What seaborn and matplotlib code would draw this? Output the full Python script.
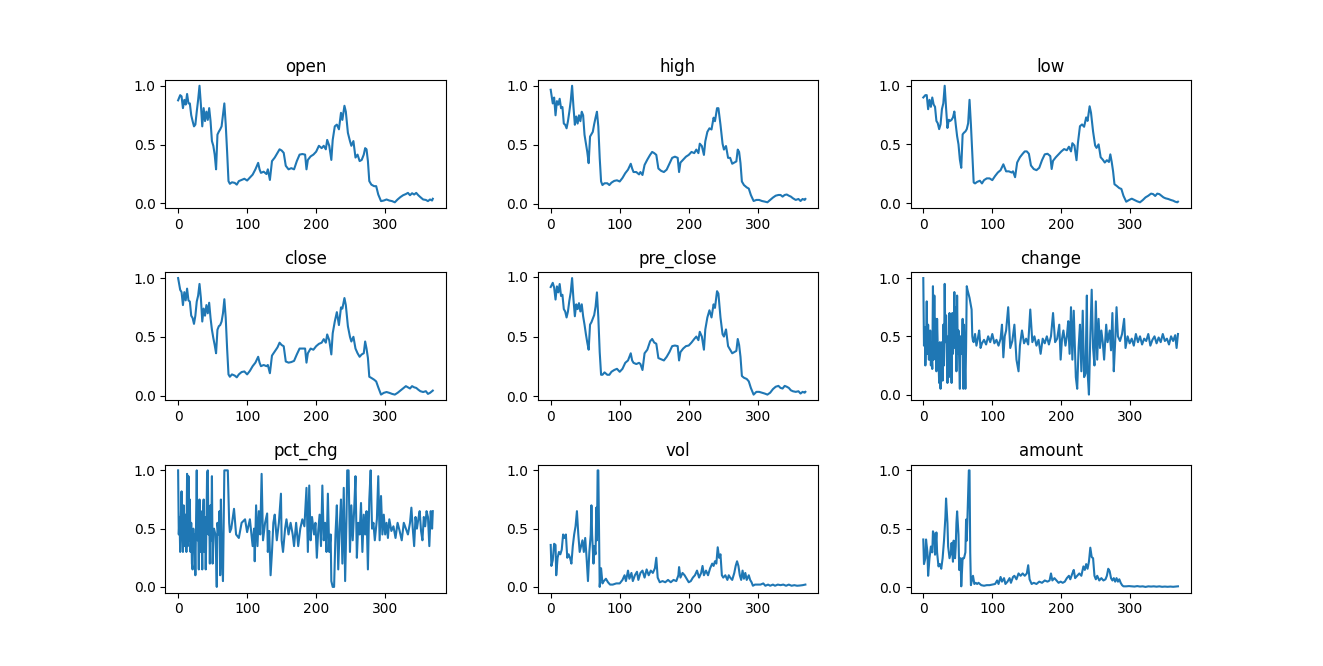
import matplotlib
matplotlib.use("Agg")
import matplotlib.pyplot as plt
import seaborn as sns

# sample days for the five price columns (min-max scaled values)
price_days = [0, 3, 5, 7, 9, 11, 13, 15, 17, 19, 21, 23, 25, 27, 29, 31, 33, 35, 37, 39,
              41, 43, 45, 47, 49, 51, 53, 55, 57, 59, 61, 63, 65, 67, 69, 71, 73, 75, 78, 82,
              85, 88, 92, 96, 100, 104, 108, 112, 116, 118, 120, 124, 128, 130, 133, 136, 140, 144, 147, 150,
              153, 156, 160, 164, 168, 172, 176, 180, 184, 186, 188, 192, 196, 200, 204, 208, 211, 214, 216, 219,
              222, 224, 227, 230, 233, 236, 238, 241, 243, 246, 249, 251, 254, 257, 260, 263, 266, 269, 271, 273,
              275, 277, 280, 284, 287, 290, 294, 298, 302, 306, 310, 314, 318, 322, 326, 330, 333, 336, 339, 342,
              345, 348, 351, 355, 359, 362, 365, 368, 369]

open_vals = [0.876, 0.92, 0.91, 0.81, 0.88, 0.84, 0.93, 0.85, 0.85, 0.75, 0.70, 0.655, 0.67, 0.78, 0.88, 1.0, 0.84, 0.655, 0.81, 0.70,
             0.78, 0.71, 0.81, 0.70, 0.53, 0.49, 0.415, 0.29, 0.585, 0.61, 0.63, 0.655, 0.75, 0.85, 0.67, 0.44, 0.19, 0.167, 0.18, 0.175,
             0.16, 0.19, 0.20, 0.21, 0.195, 0.22, 0.245, 0.29, 0.345, 0.29, 0.26, 0.27, 0.25, 0.29, 0.20, 0.36, 0.39, 0.43, 0.46, 0.45,
             0.43, 0.32, 0.29, 0.30, 0.29, 0.36, 0.415, 0.42, 0.415, 0.29, 0.37, 0.40, 0.415, 0.44, 0.49, 0.47, 0.49, 0.46, 0.54, 0.49,
             0.37, 0.54, 0.655, 0.67, 0.63, 0.77, 0.71, 0.83, 0.78, 0.60, 0.53, 0.49, 0.53, 0.39, 0.415, 0.36, 0.37, 0.415, 0.47, 0.46,
             0.36, 0.19, 0.16, 0.147, 0.147, 0.076, 0.02, 0.025, 0.034, 0.025, 0.02, 0.01, 0.034, 0.054, 0.07, 0.08, 0.09, 0.07, 0.087, 0.076,
             0.09, 0.07, 0.054, 0.034, 0.03, 0.02, 0.034, 0.025, 0.04]

high_vals = [0.966, 0.85, 0.90, 0.75, 0.87, 0.84, 0.89, 0.81, 0.82, 0.68, 0.67, 0.64, 0.70, 0.78, 0.87, 1.0, 0.82, 0.67, 0.74, 0.68,
             0.75, 0.70, 0.78, 0.75, 0.585, 0.51, 0.44, 0.345, 0.57, 0.59, 0.61, 0.675, 0.73, 0.78, 0.655, 0.39, 0.19, 0.16, 0.175, 0.175,
             0.16, 0.18, 0.195, 0.20, 0.19, 0.22, 0.26, 0.29, 0.34, 0.30, 0.27, 0.27, 0.25, 0.27, 0.245, 0.33, 0.375, 0.415, 0.44, 0.43,
             0.415, 0.30, 0.28, 0.27, 0.29, 0.34, 0.39, 0.40, 0.39, 0.27, 0.35, 0.375, 0.40, 0.415, 0.44, 0.43, 0.46, 0.43, 0.51, 0.49,
             0.415, 0.53, 0.61, 0.64, 0.63, 0.73, 0.70, 0.81, 0.81, 0.67, 0.51, 0.46, 0.49, 0.39, 0.39, 0.34, 0.35, 0.36, 0.46, 0.44,
             0.345, 0.19, 0.16, 0.14, 0.13, 0.076, 0.025, 0.034, 0.034, 0.025, 0.02, 0.014, 0.034, 0.054, 0.07, 0.076, 0.076, 0.062, 0.076, 0.08,
             0.07, 0.062, 0.048, 0.034, 0.042, 0.025, 0.042, 0.034, 0.042]

low_vals = [0.90, 0.92, 0.92, 0.80, 0.88, 0.82, 0.90, 0.84, 0.82, 0.70, 0.68, 0.63, 0.67, 0.80, 0.85, 1.0, 0.81, 0.64, 0.71, 0.70,
            0.71, 0.73, 0.78, 0.67, 0.57, 0.50, 0.37, 0.30, 0.585, 0.60, 0.61, 0.63, 0.68, 0.88, 0.67, 0.415, 0.175, 0.167, 0.18, 0.19,
            0.167, 0.195, 0.21, 0.21, 0.195, 0.23, 0.26, 0.28, 0.33, 0.30, 0.27, 0.27, 0.26, 0.27, 0.22, 0.345, 0.39, 0.42, 0.44, 0.44,
            0.42, 0.32, 0.29, 0.28, 0.30, 0.365, 0.415, 0.42, 0.40, 0.29, 0.36, 0.39, 0.415, 0.44, 0.46, 0.45, 0.48, 0.44, 0.51, 0.49,
            0.365, 0.51, 0.655, 0.67, 0.65, 0.73, 0.70, 0.825, 0.77, 0.61, 0.49, 0.47, 0.50, 0.39, 0.37, 0.345, 0.365, 0.35, 0.415, 0.35,
            0.27, 0.16, 0.147, 0.127, 0.12, 0.062, 0.011, 0.025, 0.037, 0.025, 0.014, 0.006, 0.025, 0.048, 0.062, 0.08, 0.076, 0.06, 0.08, 0.076,
            0.062, 0.048, 0.04, 0.034, 0.025, 0.02, 0.011, 0.006, 0.011]

close_vals = [1.0, 0.90, 0.88, 0.77, 0.88, 0.81, 0.91, 0.81, 0.80, 0.68, 0.66, 0.61, 0.68, 0.80, 0.85, 0.95, 0.83, 0.63, 0.74, 0.68,
              0.77, 0.70, 0.79, 0.66, 0.56, 0.49, 0.43, 0.36, 0.56, 0.59, 0.60, 0.63, 0.70, 0.82, 0.66, 0.40, 0.18, 0.16, 0.18, 0.17,
              0.155, 0.18, 0.20, 0.205, 0.18, 0.21, 0.25, 0.28, 0.33, 0.28, 0.25, 0.26, 0.25, 0.26, 0.19, 0.34, 0.375, 0.41, 0.45, 0.43,
              0.42, 0.29, 0.28, 0.285, 0.295, 0.35, 0.40, 0.40, 0.40, 0.28, 0.36, 0.40, 0.39, 0.42, 0.44, 0.45, 0.48, 0.45, 0.52, 0.47,
              0.35, 0.53, 0.63, 0.71, 0.60, 0.75, 0.74, 0.83, 0.77, 0.59, 0.50, 0.46, 0.50, 0.40, 0.36, 0.33, 0.35, 0.36, 0.46, 0.40,
              0.32, 0.16, 0.15, 0.135, 0.12, 0.07, 0.008, 0.023, 0.03, 0.023, 0.014, 0.008, 0.023, 0.042, 0.06, 0.08, 0.07, 0.06, 0.08, 0.07,
              0.065, 0.05, 0.037, 0.03, 0.037, 0.014, 0.023, 0.037, 0.042]

pre_close_vals = [0.915, 0.95, 0.91, 0.81, 0.92, 0.87, 0.94, 0.84, 0.85, 0.73, 0.71, 0.66, 0.71, 0.80, 0.87, 0.99, 0.81, 0.67, 0.77, 0.73,
                  0.78, 0.71, 0.77, 0.67, 0.60, 0.52, 0.45, 0.39, 0.60, 0.62, 0.65, 0.68, 0.75, 0.87, 0.66, 0.37, 0.18, 0.18, 0.20, 0.18,
                  0.18, 0.205, 0.22, 0.23, 0.205, 0.23, 0.28, 0.30, 0.36, 0.30, 0.28, 0.27, 0.28, 0.27, 0.22, 0.36, 0.39, 0.46, 0.48, 0.45,
                  0.44, 0.32, 0.31, 0.30, 0.33, 0.37, 0.42, 0.425, 0.42, 0.30, 0.37, 0.40, 0.42, 0.425, 0.45, 0.48, 0.50, 0.47, 0.54, 0.50,
                  0.39, 0.56, 0.66, 0.72, 0.66, 0.77, 0.74, 0.88, 0.86, 0.66, 0.52, 0.50, 0.56, 0.42, 0.39, 0.36, 0.37, 0.38, 0.48, 0.43,
                  0.33, 0.17, 0.155, 0.145, 0.125, 0.07, 0.014, 0.037, 0.037, 0.03, 0.023, 0.014, 0.03, 0.06, 0.08, 0.087, 0.07, 0.065, 0.087, 0.08,
                  0.07, 0.05, 0.042, 0.037, 0.042, 0.023, 0.037, 0.03, 0.037]

change_days = [0, 1, 2, 3, 4, 5, 6, 7, 8, 9, 10, 11, 12, 13, 14, 15, 16, 17, 18, 19,
               20, 21, 22, 23, 24, 25, 26, 27, 28, 29, 30, 31, 32, 33, 34, 35, 36, 37, 38, 39,
               40, 41, 42, 43, 44, 45, 46, 47, 48, 49, 50, 51, 52, 53, 54, 55, 56, 57, 58, 59,
               60, 61, 62, 63, 64, 67, 70, 71, 72, 73, 75, 77, 79, 81, 83, 85, 88, 91, 94, 97,
               100, 103, 106, 109, 112, 114, 116, 118, 120, 123, 126, 129, 132, 135, 138, 140, 143, 146, 149, 152,
               155, 158, 161, 164, 167, 170, 173, 176, 179, 182, 185, 188, 191, 194, 197, 199, 201, 203, 206, 208,
               210, 212, 214, 216, 218, 221, 223, 225, 227, 229, 231, 233, 235, 237, 238, 240, 242, 244, 246, 248,
               250, 252, 254, 256, 258, 260, 262, 265, 267, 270, 272, 274, 276, 278, 280, 282, 285, 288, 291, 293,
               296, 299, 302, 305, 308, 311, 314, 317, 320, 323, 326, 329, 332, 335, 338, 341, 344, 347, 350, 353,
               356, 359, 362, 365, 367, 369]
change_vals = [1.0, 0.42, 0.58, 0.25, 0.45, 0.80, 0.35, 0.60, 0.30, 0.30, 0.55, 0.25, 0.40, 0.22, 0.93, 0.30, 0.85, 0.35, 0.65, 0.20,
               0.65, 0.40, 0.30, 0.10, 0.45, 0.05, 0.30, 0.45, 0.12, 0.60, 0.25, 0.95, 0.45, 0.68, 0.40, 0.10, 0.50, 0.15, 0.70, 0.30,
               0.40, 0.10, 0.70, 0.35, 0.50, 0.88, 0.40, 0.75, 0.20, 0.85, 0.35, 0.55, 0.30, 0.05, 0.50, 0.40, 0.35, 0.65, 0.05, 0.60,
               0.30, 0.05, 0.40, 0.93, 0.90, 0.83, 0.73, 0.50, 0.46, 0.45, 0.52, 0.42, 0.48, 0.55, 0.40, 0.44, 0.47, 0.43, 0.50, 0.45,
               0.52, 0.44, 0.47, 0.42, 0.48, 0.60, 0.32, 0.50, 0.55, 0.75, 0.40, 0.46, 0.60, 0.30, 0.20, 0.42, 0.55, 0.44, 0.48, 0.43,
               0.73, 0.45, 0.50, 0.42, 0.47, 0.35, 0.48, 0.44, 0.50, 0.43, 0.50, 0.70, 0.45, 0.48, 0.60, 0.30, 0.48, 0.55, 0.42, 0.50,
               0.63, 0.35, 0.75, 0.30, 0.72, 0.15, 0.05, 0.40, 0.60, 0.20, 0.72, 0.15, 0.18, 0.85, 0.20, 0.0, 0.50, 0.90, 0.40, 0.25,
               0.80, 0.30, 0.65, 0.40, 0.55, 0.45, 0.30, 0.60, 0.45, 0.55, 0.38, 0.70, 0.20, 0.45, 0.75, 0.50, 0.46, 0.52, 0.65, 0.40,
               0.50, 0.44, 0.48, 0.42, 0.52, 0.45, 0.50, 0.43, 0.48, 0.46, 0.52, 0.42, 0.47, 0.50, 0.44, 0.49, 0.45, 0.52, 0.46, 0.48,
               0.43, 0.50, 0.46, 0.51, 0.40, 0.52]

pct_days = [0, 1, 2, 3, 4, 5, 6, 7, 8, 9, 10, 11, 12, 13, 14, 15, 16, 17, 18, 19,
            20, 21, 22, 23, 24, 25, 26, 27, 28, 29, 30, 31, 32, 33, 34, 35, 36, 37, 38, 39,
            40, 41, 42, 43, 44, 45, 46, 47, 48, 49, 50, 51, 52, 54, 55, 56, 57, 58, 59, 60,
            61, 62, 63, 65, 66, 67, 68, 70, 72, 74, 75, 77, 81, 84, 88, 92, 97, 100, 104, 108,
            110, 111, 113, 115, 117, 119, 121, 123, 126, 129, 130, 132, 134, 136, 138, 140, 143, 146, 149, 150,
            152, 155, 157, 160, 163, 166, 168, 171, 174, 177, 180, 183, 186, 188, 190, 192, 194, 197, 199, 201,
            203, 205, 207, 209, 211, 213, 215, 217, 219, 221, 222, 224, 226, 228, 230, 232, 234, 236, 238, 240,
            242, 244, 245, 247, 249, 251, 253, 255, 257, 259, 261, 263, 265, 267, 269, 271, 273, 275, 277, 279,
            281, 283, 285, 288, 290, 292, 294, 296, 298, 300, 302, 304, 306, 309, 312, 315, 318, 321, 324, 327,
            330, 333, 336, 338, 340, 342, 344, 346, 348, 350, 352, 354, 356, 358, 360, 362, 364, 366, 368, 369]
pct_vals = [1.0, 0.45, 0.60, 0.30, 0.60, 0.82, 0.45, 0.30, 0.70, 0.45, 0.35, 0.62, 0.30, 0.97, 0.35, 0.95, 0.40, 0.75, 0.30, 0.55,
            0.20, 0.15, 0.50, 0.30, 0.45, 0.10, 0.55, 1.0, 0.40, 0.55, 0.15, 0.75, 0.30, 0.65, 0.45, 0.15, 0.60, 0.75, 0.30, 0.60,
            0.15, 0.50, 0.98, 1.0, 0.45, 0.65, 0.20, 0.70, 0.40, 0.95, 0.20, 0.45, 0.50, 0.45, 0.25, 0.0, 0.55, 0.48, 0.45, 0.65,
            0.10, 0.75, 0.40, 0.05, 0.55, 1.0, 1.0, 1.0, 1.0, 0.55, 0.47, 0.50, 0.67, 0.45, 0.42, 0.55, 0.58, 0.47, 0.58, 0.35,
            0.50, 0.22, 0.70, 0.35, 0.65, 0.45, 0.97, 0.40, 0.55, 0.63, 0.30, 0.48, 0.10, 0.30, 0.55, 0.62, 0.40, 0.55, 0.80, 0.40,
            0.30, 0.50, 0.58, 0.45, 0.55, 0.45, 0.35, 0.55, 0.35, 0.50, 0.58, 0.52, 0.85, 0.30, 0.87, 0.40, 0.60, 0.45, 0.55, 0.25,
            0.48, 0.62, 0.35, 0.87, 0.40, 0.55, 0.30, 0.80, 0.30, 0.45, 0.05, 0.0, 0.0, 0.45, 0.70, 0.15, 0.50, 0.75, 0.20, 0.85,
            0.05, 0.60, 1.0, 1.0, 0.30, 0.70, 0.40, 0.65, 0.95, 0.25, 0.55, 0.45, 0.72, 0.30, 0.62, 0.45, 0.65, 0.15, 0.75, 1.0,
            0.50, 0.55, 0.40, 0.58, 0.95, 0.40, 0.78, 0.45, 0.62, 0.45, 0.55, 0.42, 0.58, 0.48, 0.52, 0.42, 0.55, 0.48, 0.40, 0.55,
            0.50, 0.45, 0.55, 0.68, 0.50, 0.35, 0.60, 0.50, 0.58, 0.65, 0.48, 0.40, 0.60, 0.52, 0.65, 0.60, 0.35, 0.65, 0.50, 0.65]

vol_days = [0, 1, 3, 5, 7, 8, 10, 12, 14, 16, 18, 20, 22, 24, 26, 28, 30, 32, 34, 36,
            38, 40, 42, 44, 46, 48, 50, 52, 54, 56, 58, 59, 60, 62, 63, 65, 66, 67, 68, 69,
            70, 71, 73, 75, 77, 80, 83, 86, 90, 95, 100, 104, 107, 109, 112, 114, 117, 119, 122, 125,
            127, 130, 133, 136, 139, 142, 145, 148, 151, 153, 155, 158, 162, 166, 170, 174, 178, 182, 185, 186,
            188, 191, 194, 197, 200, 203, 206, 209, 212, 215, 218, 220, 222, 225, 228, 231, 234, 236, 238, 240,
            242, 244, 246, 248, 250, 253, 256, 258, 260, 263, 266, 268, 270, 272, 274, 276, 278, 280, 282, 284,
            287, 289, 291, 293, 296, 300, 304, 308, 311, 315, 318, 322, 325, 329, 333, 337, 341, 345, 349, 353,
            357, 361, 365, 369]
vol_vals = [0.36, 0.18, 0.23, 0.37, 0.36, 0.10, 0.25, 0.30, 0.28, 0.32, 0.45, 0.42, 0.45, 0.25, 0.28, 0.25, 0.20, 0.35, 0.45, 0.52,
            0.65, 0.45, 0.30, 0.35, 0.40, 0.30, 0.42, 0.25, 0.05, 0.30, 0.45, 0.70, 0.45, 0.20, 0.35, 0.28, 0.68, 0.40, 1.0, 1.0,
            0.50, 0.0, 0.16, 0.03, 0.05, 0.07, 0.04, 0.02, 0.02, 0.03, 0.03, 0.06, 0.10, 0.05, 0.14, 0.07, 0.12, 0.05, 0.10, 0.13,
            0.06, 0.12, 0.14, 0.08, 0.15, 0.10, 0.14, 0.12, 0.16, 0.25, 0.08, 0.04, 0.05, 0.04, 0.06, 0.04, 0.06, 0.05, 0.10, 0.17,
            0.08, 0.12, 0.10, 0.07, 0.04, 0.05, 0.08, 0.10, 0.14, 0.08, 0.12, 0.18, 0.10, 0.14, 0.10, 0.16, 0.20, 0.18, 0.22, 0.20,
            0.34, 0.25, 0.28, 0.10, 0.08, 0.10, 0.06, 0.10, 0.08, 0.06, 0.12, 0.18, 0.22, 0.18, 0.10, 0.06, 0.14, 0.07, 0.12, 0.06,
            0.10, 0.06, 0.04, 0.01, 0.02, 0.02, 0.02, 0.03, 0.01, 0.02, 0.01, 0.02, 0.01, 0.02, 0.015, 0.02, 0.01, 0.02, 0.01, 0.015,
            0.01, 0.012, 0.015, 0.02]

amount_days = [0, 1, 3, 4, 6, 7, 9, 11, 13, 14, 16, 17, 19, 20, 22, 24, 26, 28, 30, 32,
               33, 35, 36, 38, 40, 41, 43, 44, 46, 47, 48, 49, 51, 52, 54, 55, 57, 59, 61, 62,
               63, 66, 67, 68, 69, 70, 72, 74, 76, 78, 80, 84, 88, 92, 96, 100, 104, 107, 109, 112,
               114, 117, 119, 122, 125, 127, 130, 132, 135, 138, 141, 144, 147, 150, 152, 154, 157, 160, 164, 168,
               172, 176, 180, 183, 185, 187, 190, 193, 196, 199, 202, 205, 208, 211, 213, 216, 218, 220, 223, 226,
               229, 232, 234, 236, 238, 240, 242, 244, 246, 248, 250, 252, 255, 258, 261, 264, 266, 268, 270, 272,
               274, 276, 278, 280, 282, 284, 286, 288, 290, 294, 298, 302, 306, 310, 314, 318, 322, 326, 330, 334,
               338, 342, 346, 350, 354, 358, 362, 366, 369]
amount_vals = [0.41, 0.20, 0.25, 0.41, 0.30, 0.10, 0.25, 0.35, 0.30, 0.48, 0.45, 0.28, 0.47, 0.30, 0.18, 0.20, 0.16, 0.25, 0.40, 0.60,
               0.76, 0.55, 0.35, 0.25, 0.30, 0.38, 0.22, 0.40, 0.25, 0.35, 0.55, 0.65, 0.45, 0.15, 0.25, 0.01, 0.25, 0.25, 0.30, 0.58,
               0.40, 1.0, 1.0, 0.30, 0.02, 0.05, 0.10, 0.03, 0.04, 0.03, 0.04, 0.02, 0.015, 0.02, 0.02, 0.025, 0.03, 0.06, 0.03, 0.09,
               0.05, 0.08, 0.03, 0.05, 0.08, 0.04, 0.09, 0.10, 0.07, 0.12, 0.10, 0.12, 0.10, 0.12, 0.19, 0.07, 0.03, 0.04, 0.03, 0.05,
               0.04, 0.06, 0.05, 0.06, 0.12, 0.06, 0.08, 0.06, 0.04, 0.05, 0.04, 0.05, 0.08, 0.10, 0.07, 0.12, 0.15, 0.08, 0.10, 0.12,
               0.10, 0.18, 0.15, 0.20, 0.16, 0.22, 0.34, 0.26, 0.25, 0.10, 0.07, 0.10, 0.06, 0.08, 0.06, 0.07, 0.10, 0.16, 0.14, 0.08,
               0.06, 0.08, 0.05, 0.08, 0.05, 0.07, 0.04, 0.02, 0.01, 0.01, 0.012, 0.01, 0.008, 0.012, 0.008, 0.01, 0.005, 0.01, 0.008, 0.01,
               0.007, 0.01, 0.006, 0.008, 0.006, 0.008, 0.006, 0.008, 0.01]

titles = ["open", "high", "low", "close", "pre_close", "change", "pct_chg", "vol", "amount"]
series = [
    (price_days, open_vals),
    (price_days, high_vals),
    (price_days, low_vals),
    (price_days, close_vals),
    (price_days, pre_close_vals),
    (change_days, change_vals),
    (pct_days, pct_vals),
    (vol_days, vol_vals),
    (amount_days, amount_vals),
]

fig, axes = plt.subplots(3, 3, figsize=(13.23, 6.66), dpi=100)
fig.subplots_adjust(left=0.125, right=0.9, bottom=0.11, top=0.88, hspace=0.5, wspace=0.33)

for ax, title, (days, vals) in zip(axes.flat, titles, series):
    sns.lineplot(x=days, y=vals, ax=ax, color="#1f77b4", linewidth=1.5)
    ax.set_title(title)
    ax.set_xlabel("")
    ax.set_ylabel("")
    ax.set_xticks([0, 100, 200, 300])
    ax.set_yticks([0.0, 0.5, 1.0])

plt.savefig("out.png", dpi=100)
